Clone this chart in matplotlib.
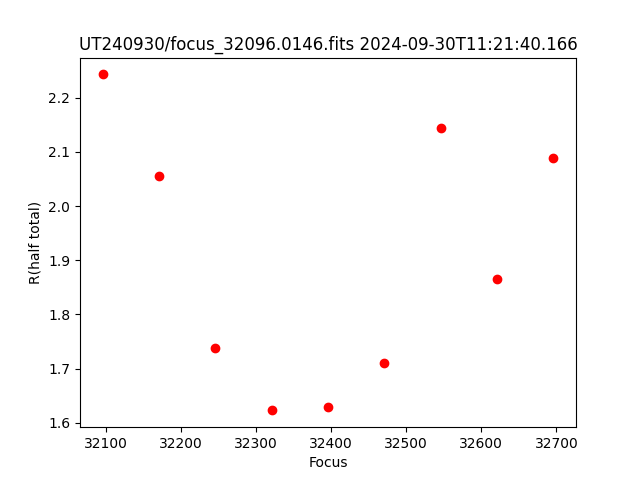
import matplotlib
matplotlib.use('Agg')
import matplotlib.pyplot as plt

# Pozycje fokusu i promien
focus = [32096, 32171, 32246, 32321, 32396, 32471, 32546, 32621, 32696]
r_half = [2.243, 2.056, 1.739, 1.623, 1.630, 1.710, 2.145, 1.865, 2.088]

fig = plt.figure(figsize=(6.4, 4.8), dpi=100)
plt.plot(focus, r_half, 'ro')
plt.xlabel('Focus')
plt.ylabel('R(half total)')
plt.title('UT240930/focus_32096.0146.fits 2024-09-30T11:21:40.166')
plt.savefig('out.png')
